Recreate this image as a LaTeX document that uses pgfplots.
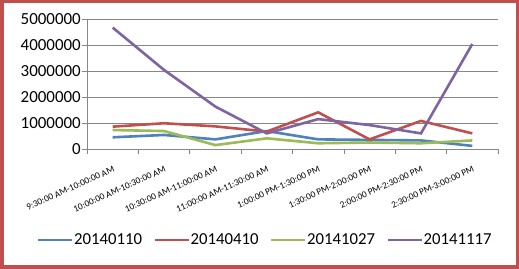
\documentclass[border=0pt]{standalone}
\usepackage{pgfplots}
\pgfplotsset{compat=1.18}
\usepackage{fontspec}
\setmainfont{Carlito}
\definecolor{exblue}{HTML}{4F81BD}
\definecolor{exred}{HTML}{C0504D}
\definecolor{exgreen}{HTML}{9BBB59}
\definecolor{expurple}{HTML}{8064A2}
\definecolor{gridgray}{RGB}{134,134,134}
\definecolor{border}{RGB}{192,80,77}
\begin{document}
\begin{tikzpicture}
\path[use as bounding box, fill=white] (0,0) rectangle (519bp,269bp);
\begin{axis}[
  at={(87bp,120bp)}, anchor=south west,
  width=411bp, height=130bp, scale only axis,
  xmin=-0.5, xmax=7.5, ymin=0, ymax=5000000,
  axis lines*=left,
  axis line style={draw=gridgray, line width=0.75bp},
  xtick={0,...,7},
  xticklabels={9:30:00 AM-10:00:00 AM,10:00:00 AM-10:30:00 AM,10:30:00 AM-11:00:00 AM,11:00:00 AM-11:30:00 AM,1:00:00 PM-1:30:00 PM,1:30:00 PM-2:00:00 PM,2:00:00 PM-2:30:00 PM,2:30:00 PM-3:00:00 PM},
  minor xtick={-0.5,0.5,...,7.5},
  major x tick style={draw=none},
  minor tick length=5bp,
  major tick length=5bp,
  tick align=outside,
  tick style={draw=gridgray, line width=0.75bp},
  ytick={0,1000000,2000000,3000000,4000000,5000000},
  scaled y ticks=false,
  ymajorgrids,
  grid style={draw=gridgray, line width=0.75bp},
  /pgf/number format/assume math mode=true,
  yticklabel style={/pgf/number format/fixed, /pgf/number format/1000 sep={}, font=\fontsize{17}{17}\selectfont, inner sep=1bp},
  xticklabel shift=12bp,
  xticklabel style={rotate=24, anchor=north east, inner sep=0pt, font=\fontsize{9.3}{10}\selectfont},
  legend columns=4,
  legend style={at={(0.432,-0.70)}, anchor=center, draw=none, fill=none,
    font=\fontsize{16.8}{17}\selectfont,
    nodes={inner xsep=0.5bp, inner ysep=1bp},
    /tikz/every even column/.append style={column sep=11bp}},
  legend image code/.code={\draw[#1] (0bp,0bp) -- (34bp,0bp);},
  every axis plot/.append style={line width=2.6bp, no markers},
]
\addplot[exblue] coordinates {(0,450000) (1,540000) (2,370000) (3,690000) (4,370000) (5,350000) (6,330000) (7,120000)};
\addplot[exred] coordinates {(0,860000) (1,990000) (2,870000) (3,670000) (4,1410000) (5,370000) (6,1080000) (7,600000)};
\addplot[exgreen] coordinates {(0,730000) (1,690000) (2,150000) (3,410000) (4,220000) (5,250000) (6,220000) (7,330000)};
\addplot[expurple] coordinates {(0,4670000) (1,3040000) (2,1630000) (3,600000) (4,1150000) (5,920000) (6,600000) (7,4040000)};
\legend{20140110,20140410,20141027,20141117}
\end{axis}
\draw[border, line width=3.5bp] (1.75bp,1.75bp) rectangle (517.25bp,267.25bp);
\end{tikzpicture}
\end{document}
